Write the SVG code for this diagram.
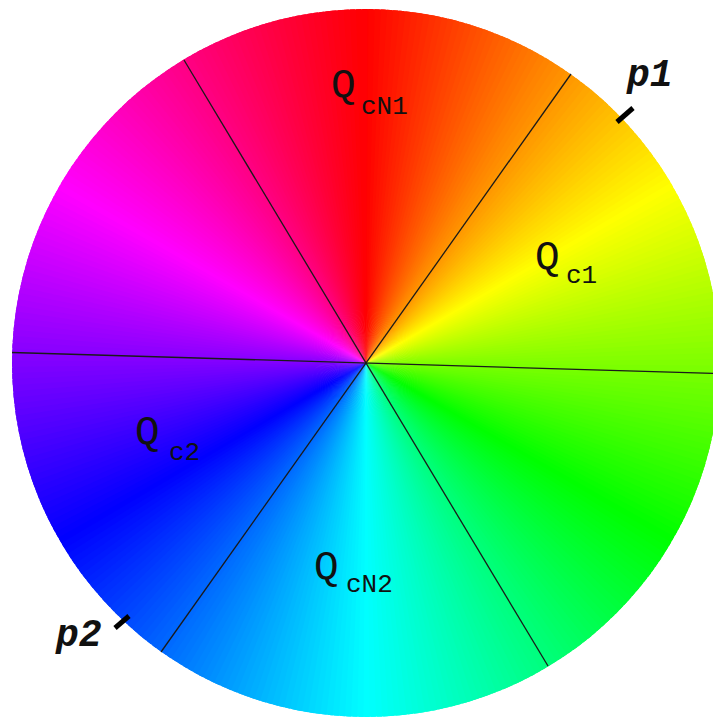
<svg xmlns="http://www.w3.org/2000/svg" xmlns:xlink="http://www.w3.org/1999/xlink" width="713" height="720" viewBox="0 0 713 720">
<style>
.q{font-family:"Liberation Mono","Courier New",monospace;font-size:41px;fill:#111}
.s{font-family:"Liberation Mono","Courier New",monospace;font-size:26px;fill:#111}
.p{font-family:"Liberation Mono","Courier New",monospace;font-size:38px;font-weight:bold;font-style:italic;fill:#111}
.ln{stroke:#1a1a1a;stroke-width:1.3;fill:none}
.tk{stroke:#000;stroke-width:5;fill:none}
</style>
<defs>
<path id="w" d="M0 0L-3.79 -362L7.6 -362Z"/>
<clipPath id="cc"><circle cx="0" cy="0" r="354"/></clipPath>
</defs>
<rect width="713" height="720" fill="#fff"/>
<g id="wheel" transform="translate(366,363)">
<g clip-path="url(#cc)">
<use href="#w" transform="rotate(0)" fill="hsl(0,100%,50%)"/>
<use href="#w" transform="rotate(1)" fill="hsl(1,100%,50%)"/>
<use href="#w" transform="rotate(2)" fill="hsl(2,100%,50%)"/>
<use href="#w" transform="rotate(3)" fill="hsl(3,100%,50%)"/>
<use href="#w" transform="rotate(4)" fill="hsl(4,100%,50%)"/>
<use href="#w" transform="rotate(5)" fill="hsl(5,100%,50%)"/>
<use href="#w" transform="rotate(6)" fill="hsl(6,100%,50%)"/>
<use href="#w" transform="rotate(7)" fill="hsl(7,100%,50%)"/>
<use href="#w" transform="rotate(8)" fill="hsl(8,100%,50%)"/>
<use href="#w" transform="rotate(9)" fill="hsl(9,100%,50%)"/>
<use href="#w" transform="rotate(10)" fill="hsl(10,100%,50%)"/>
<use href="#w" transform="rotate(11)" fill="hsl(11,100%,50%)"/>
<use href="#w" transform="rotate(12)" fill="hsl(12,100%,50%)"/>
<use href="#w" transform="rotate(13)" fill="hsl(13,100%,50%)"/>
<use href="#w" transform="rotate(14)" fill="hsl(14,100%,50%)"/>
<use href="#w" transform="rotate(15)" fill="hsl(15,100%,50%)"/>
<use href="#w" transform="rotate(16)" fill="hsl(16,100%,50%)"/>
<use href="#w" transform="rotate(17)" fill="hsl(17,100%,50%)"/>
<use href="#w" transform="rotate(18)" fill="hsl(18,100%,50%)"/>
<use href="#w" transform="rotate(19)" fill="hsl(19,100%,50%)"/>
<use href="#w" transform="rotate(20)" fill="hsl(20,100%,50%)"/>
<use href="#w" transform="rotate(21)" fill="hsl(21,100%,50%)"/>
<use href="#w" transform="rotate(22)" fill="hsl(22,100%,50%)"/>
<use href="#w" transform="rotate(23)" fill="hsl(23,100%,50%)"/>
<use href="#w" transform="rotate(24)" fill="hsl(24,100%,50%)"/>
<use href="#w" transform="rotate(25)" fill="hsl(25,100%,50%)"/>
<use href="#w" transform="rotate(26)" fill="hsl(26,100%,50%)"/>
<use href="#w" transform="rotate(27)" fill="hsl(27,100%,50%)"/>
<use href="#w" transform="rotate(28)" fill="hsl(28,100%,50%)"/>
<use href="#w" transform="rotate(29)" fill="hsl(29,100%,50%)"/>
<use href="#w" transform="rotate(30)" fill="hsl(30,100%,50%)"/>
<use href="#w" transform="rotate(31)" fill="hsl(31,100%,50%)"/>
<use href="#w" transform="rotate(32)" fill="hsl(32,100%,50%)"/>
<use href="#w" transform="rotate(33)" fill="hsl(33,100%,50%)"/>
<use href="#w" transform="rotate(34)" fill="hsl(34,100%,50%)"/>
<use href="#w" transform="rotate(35)" fill="hsl(35,100%,50%)"/>
<use href="#w" transform="rotate(36)" fill="hsl(36,100%,50%)"/>
<use href="#w" transform="rotate(37)" fill="hsl(37,100%,50%)"/>
<use href="#w" transform="rotate(38)" fill="hsl(38,100%,50%)"/>
<use href="#w" transform="rotate(39)" fill="hsl(39,100%,50%)"/>
<use href="#w" transform="rotate(40)" fill="hsl(40,100%,50%)"/>
<use href="#w" transform="rotate(41)" fill="hsl(41,100%,50%)"/>
<use href="#w" transform="rotate(42)" fill="hsl(42,100%,50%)"/>
<use href="#w" transform="rotate(43)" fill="hsl(43,100%,50%)"/>
<use href="#w" transform="rotate(44)" fill="hsl(44,100%,50%)"/>
<use href="#w" transform="rotate(45)" fill="hsl(45,100%,50%)"/>
<use href="#w" transform="rotate(46)" fill="hsl(46,100%,50%)"/>
<use href="#w" transform="rotate(47)" fill="hsl(47,100%,50%)"/>
<use href="#w" transform="rotate(48)" fill="hsl(48,100%,50%)"/>
<use href="#w" transform="rotate(49)" fill="hsl(49,100%,50%)"/>
<use href="#w" transform="rotate(50)" fill="hsl(50,100%,50%)"/>
<use href="#w" transform="rotate(51)" fill="hsl(51,100%,50%)"/>
<use href="#w" transform="rotate(52)" fill="hsl(52,100%,50%)"/>
<use href="#w" transform="rotate(53)" fill="hsl(53,100%,50%)"/>
<use href="#w" transform="rotate(54)" fill="hsl(54,100%,50%)"/>
<use href="#w" transform="rotate(55)" fill="hsl(55,100%,50%)"/>
<use href="#w" transform="rotate(56)" fill="hsl(56,100%,50%)"/>
<use href="#w" transform="rotate(57)" fill="hsl(57,100%,50%)"/>
<use href="#w" transform="rotate(58)" fill="hsl(58,100%,50%)"/>
<use href="#w" transform="rotate(59)" fill="hsl(59,100%,50%)"/>
<use href="#w" transform="rotate(60)" fill="hsl(60,100%,50%)"/>
<use href="#w" transform="rotate(61)" fill="hsl(61,100%,50%)"/>
<use href="#w" transform="rotate(62)" fill="hsl(62,100%,50%)"/>
<use href="#w" transform="rotate(63)" fill="hsl(63,100%,50%)"/>
<use href="#w" transform="rotate(64)" fill="hsl(64,100%,50%)"/>
<use href="#w" transform="rotate(65)" fill="hsl(65,100%,50%)"/>
<use href="#w" transform="rotate(66)" fill="hsl(66,100%,50%)"/>
<use href="#w" transform="rotate(67)" fill="hsl(67,100%,50%)"/>
<use href="#w" transform="rotate(68)" fill="hsl(68,100%,50%)"/>
<use href="#w" transform="rotate(69)" fill="hsl(69,100%,50%)"/>
<use href="#w" transform="rotate(70)" fill="hsl(70,100%,50%)"/>
<use href="#w" transform="rotate(71)" fill="hsl(71,100%,50%)"/>
<use href="#w" transform="rotate(72)" fill="hsl(72,100%,50%)"/>
<use href="#w" transform="rotate(73)" fill="hsl(73,100%,50%)"/>
<use href="#w" transform="rotate(74)" fill="hsl(74,100%,50%)"/>
<use href="#w" transform="rotate(75)" fill="hsl(75,100%,50%)"/>
<use href="#w" transform="rotate(76)" fill="hsl(76,100%,50%)"/>
<use href="#w" transform="rotate(77)" fill="hsl(77,100%,50%)"/>
<use href="#w" transform="rotate(78)" fill="hsl(78,100%,50%)"/>
<use href="#w" transform="rotate(79)" fill="hsl(79,100%,50%)"/>
<use href="#w" transform="rotate(80)" fill="hsl(80,100%,50%)"/>
<use href="#w" transform="rotate(81)" fill="hsl(81,100%,50%)"/>
<use href="#w" transform="rotate(82)" fill="hsl(82,100%,50%)"/>
<use href="#w" transform="rotate(83)" fill="hsl(83,100%,50%)"/>
<use href="#w" transform="rotate(84)" fill="hsl(84,100%,50%)"/>
<use href="#w" transform="rotate(85)" fill="hsl(85,100%,50%)"/>
<use href="#w" transform="rotate(86)" fill="hsl(86,100%,50%)"/>
<use href="#w" transform="rotate(87)" fill="hsl(87,100%,50%)"/>
<use href="#w" transform="rotate(88)" fill="hsl(88,100%,50%)"/>
<use href="#w" transform="rotate(89)" fill="hsl(89,100%,50%)"/>
<use href="#w" transform="rotate(90)" fill="hsl(90,100%,50%)"/>
<use href="#w" transform="rotate(91)" fill="hsl(91,100%,50%)"/>
<use href="#w" transform="rotate(92)" fill="hsl(92,100%,50%)"/>
<use href="#w" transform="rotate(93)" fill="hsl(93,100%,50%)"/>
<use href="#w" transform="rotate(94)" fill="hsl(94,100%,50%)"/>
<use href="#w" transform="rotate(95)" fill="hsl(95,100%,50%)"/>
<use href="#w" transform="rotate(96)" fill="hsl(96,100%,50%)"/>
<use href="#w" transform="rotate(97)" fill="hsl(97,100%,50%)"/>
<use href="#w" transform="rotate(98)" fill="hsl(98,100%,50%)"/>
<use href="#w" transform="rotate(99)" fill="hsl(99,100%,50%)"/>
<use href="#w" transform="rotate(100)" fill="hsl(100,100%,50%)"/>
<use href="#w" transform="rotate(101)" fill="hsl(101,100%,50%)"/>
<use href="#w" transform="rotate(102)" fill="hsl(102,100%,50%)"/>
<use href="#w" transform="rotate(103)" fill="hsl(103,100%,50%)"/>
<use href="#w" transform="rotate(104)" fill="hsl(104,100%,50%)"/>
<use href="#w" transform="rotate(105)" fill="hsl(105,100%,50%)"/>
<use href="#w" transform="rotate(106)" fill="hsl(106,100%,50%)"/>
<use href="#w" transform="rotate(107)" fill="hsl(107,100%,50%)"/>
<use href="#w" transform="rotate(108)" fill="hsl(108,100%,50%)"/>
<use href="#w" transform="rotate(109)" fill="hsl(109,100%,50%)"/>
<use href="#w" transform="rotate(110)" fill="hsl(110,100%,50%)"/>
<use href="#w" transform="rotate(111)" fill="hsl(111,100%,50%)"/>
<use href="#w" transform="rotate(112)" fill="hsl(112,100%,50%)"/>
<use href="#w" transform="rotate(113)" fill="hsl(113,100%,50%)"/>
<use href="#w" transform="rotate(114)" fill="hsl(114,100%,50%)"/>
<use href="#w" transform="rotate(115)" fill="hsl(115,100%,50%)"/>
<use href="#w" transform="rotate(116)" fill="hsl(116,100%,50%)"/>
<use href="#w" transform="rotate(117)" fill="hsl(117,100%,50%)"/>
<use href="#w" transform="rotate(118)" fill="hsl(118,100%,50%)"/>
<use href="#w" transform="rotate(119)" fill="hsl(119,100%,50%)"/>
<use href="#w" transform="rotate(120)" fill="hsl(120,100%,50%)"/>
<use href="#w" transform="rotate(121)" fill="hsl(121,100%,50%)"/>
<use href="#w" transform="rotate(122)" fill="hsl(122,100%,50%)"/>
<use href="#w" transform="rotate(123)" fill="hsl(123,100%,50%)"/>
<use href="#w" transform="rotate(124)" fill="hsl(124,100%,50%)"/>
<use href="#w" transform="rotate(125)" fill="hsl(125,100%,50%)"/>
<use href="#w" transform="rotate(126)" fill="hsl(126,100%,50%)"/>
<use href="#w" transform="rotate(127)" fill="hsl(127,100%,50%)"/>
<use href="#w" transform="rotate(128)" fill="hsl(128,100%,50%)"/>
<use href="#w" transform="rotate(129)" fill="hsl(129,100%,50%)"/>
<use href="#w" transform="rotate(130)" fill="hsl(130,100%,50%)"/>
<use href="#w" transform="rotate(131)" fill="hsl(131,100%,50%)"/>
<use href="#w" transform="rotate(132)" fill="hsl(132,100%,50%)"/>
<use href="#w" transform="rotate(133)" fill="hsl(133,100%,50%)"/>
<use href="#w" transform="rotate(134)" fill="hsl(134,100%,50%)"/>
<use href="#w" transform="rotate(135)" fill="hsl(135,100%,50%)"/>
<use href="#w" transform="rotate(136)" fill="hsl(136,100%,50%)"/>
<use href="#w" transform="rotate(137)" fill="hsl(137,100%,50%)"/>
<use href="#w" transform="rotate(138)" fill="hsl(138,100%,50%)"/>
<use href="#w" transform="rotate(139)" fill="hsl(139,100%,50%)"/>
<use href="#w" transform="rotate(140)" fill="hsl(140,100%,50%)"/>
<use href="#w" transform="rotate(141)" fill="hsl(141,100%,50%)"/>
<use href="#w" transform="rotate(142)" fill="hsl(142,100%,50%)"/>
<use href="#w" transform="rotate(143)" fill="hsl(143,100%,50%)"/>
<use href="#w" transform="rotate(144)" fill="hsl(144,100%,50%)"/>
<use href="#w" transform="rotate(145)" fill="hsl(145,100%,50%)"/>
<use href="#w" transform="rotate(146)" fill="hsl(146,100%,50%)"/>
<use href="#w" transform="rotate(147)" fill="hsl(147,100%,50%)"/>
<use href="#w" transform="rotate(148)" fill="hsl(148,100%,50%)"/>
<use href="#w" transform="rotate(149)" fill="hsl(149,100%,50%)"/>
<use href="#w" transform="rotate(150)" fill="hsl(150,100%,50%)"/>
<use href="#w" transform="rotate(151)" fill="hsl(151,100%,50%)"/>
<use href="#w" transform="rotate(152)" fill="hsl(152,100%,50%)"/>
<use href="#w" transform="rotate(153)" fill="hsl(153,100%,50%)"/>
<use href="#w" transform="rotate(154)" fill="hsl(154,100%,50%)"/>
<use href="#w" transform="rotate(155)" fill="hsl(155,100%,50%)"/>
<use href="#w" transform="rotate(156)" fill="hsl(156,100%,50%)"/>
<use href="#w" transform="rotate(157)" fill="hsl(157,100%,50%)"/>
<use href="#w" transform="rotate(158)" fill="hsl(158,100%,50%)"/>
<use href="#w" transform="rotate(159)" fill="hsl(159,100%,50%)"/>
<use href="#w" transform="rotate(160)" fill="hsl(160,100%,50%)"/>
<use href="#w" transform="rotate(161)" fill="hsl(161,100%,50%)"/>
<use href="#w" transform="rotate(162)" fill="hsl(162,100%,50%)"/>
<use href="#w" transform="rotate(163)" fill="hsl(163,100%,50%)"/>
<use href="#w" transform="rotate(164)" fill="hsl(164,100%,50%)"/>
<use href="#w" transform="rotate(165)" fill="hsl(165,100%,50%)"/>
<use href="#w" transform="rotate(166)" fill="hsl(166,100%,50%)"/>
<use href="#w" transform="rotate(167)" fill="hsl(167,100%,50%)"/>
<use href="#w" transform="rotate(168)" fill="hsl(168,100%,50%)"/>
<use href="#w" transform="rotate(169)" fill="hsl(169,100%,50%)"/>
<use href="#w" transform="rotate(170)" fill="hsl(170,100%,50%)"/>
<use href="#w" transform="rotate(171)" fill="hsl(171,100%,50%)"/>
<use href="#w" transform="rotate(172)" fill="hsl(172,100%,50%)"/>
<use href="#w" transform="rotate(173)" fill="hsl(173,100%,50%)"/>
<use href="#w" transform="rotate(174)" fill="hsl(174,100%,50%)"/>
<use href="#w" transform="rotate(175)" fill="hsl(175,100%,50%)"/>
<use href="#w" transform="rotate(176)" fill="hsl(176,100%,50%)"/>
<use href="#w" transform="rotate(177)" fill="hsl(177,100%,50%)"/>
<use href="#w" transform="rotate(178)" fill="hsl(178,100%,50%)"/>
<use href="#w" transform="rotate(179)" fill="hsl(179,100%,50%)"/>
<use href="#w" transform="rotate(180)" fill="hsl(180,100%,50%)"/>
<use href="#w" transform="rotate(181)" fill="hsl(181,100%,50%)"/>
<use href="#w" transform="rotate(182)" fill="hsl(182,100%,50%)"/>
<use href="#w" transform="rotate(183)" fill="hsl(183,100%,50%)"/>
<use href="#w" transform="rotate(184)" fill="hsl(184,100%,50%)"/>
<use href="#w" transform="rotate(185)" fill="hsl(185,100%,50%)"/>
<use href="#w" transform="rotate(186)" fill="hsl(186,100%,50%)"/>
<use href="#w" transform="rotate(187)" fill="hsl(187,100%,50%)"/>
<use href="#w" transform="rotate(188)" fill="hsl(188,100%,50%)"/>
<use href="#w" transform="rotate(189)" fill="hsl(189,100%,50%)"/>
<use href="#w" transform="rotate(190)" fill="hsl(190,100%,50%)"/>
<use href="#w" transform="rotate(191)" fill="hsl(191,100%,50%)"/>
<use href="#w" transform="rotate(192)" fill="hsl(192,100%,50%)"/>
<use href="#w" transform="rotate(193)" fill="hsl(193,100%,50%)"/>
<use href="#w" transform="rotate(194)" fill="hsl(194,100%,50%)"/>
<use href="#w" transform="rotate(195)" fill="hsl(195,100%,50%)"/>
<use href="#w" transform="rotate(196)" fill="hsl(196,100%,50%)"/>
<use href="#w" transform="rotate(197)" fill="hsl(197,100%,50%)"/>
<use href="#w" transform="rotate(198)" fill="hsl(198,100%,50%)"/>
<use href="#w" transform="rotate(199)" fill="hsl(199,100%,50%)"/>
<use href="#w" transform="rotate(200)" fill="hsl(200,100%,50%)"/>
<use href="#w" transform="rotate(201)" fill="hsl(201,100%,50%)"/>
<use href="#w" transform="rotate(202)" fill="hsl(202,100%,50%)"/>
<use href="#w" transform="rotate(203)" fill="hsl(203,100%,50%)"/>
<use href="#w" transform="rotate(204)" fill="hsl(204,100%,50%)"/>
<use href="#w" transform="rotate(205)" fill="hsl(205,100%,50%)"/>
<use href="#w" transform="rotate(206)" fill="hsl(206,100%,50%)"/>
<use href="#w" transform="rotate(207)" fill="hsl(207,100%,50%)"/>
<use href="#w" transform="rotate(208)" fill="hsl(208,100%,50%)"/>
<use href="#w" transform="rotate(209)" fill="hsl(209,100%,50%)"/>
<use href="#w" transform="rotate(210)" fill="hsl(210,100%,50%)"/>
<use href="#w" transform="rotate(211)" fill="hsl(211,100%,50%)"/>
<use href="#w" transform="rotate(212)" fill="hsl(212,100%,50%)"/>
<use href="#w" transform="rotate(213)" fill="hsl(213,100%,50%)"/>
<use href="#w" transform="rotate(214)" fill="hsl(214,100%,50%)"/>
<use href="#w" transform="rotate(215)" fill="hsl(215,100%,50%)"/>
<use href="#w" transform="rotate(216)" fill="hsl(216,100%,50%)"/>
<use href="#w" transform="rotate(217)" fill="hsl(217,100%,50%)"/>
<use href="#w" transform="rotate(218)" fill="hsl(218,100%,50%)"/>
<use href="#w" transform="rotate(219)" fill="hsl(219,100%,50%)"/>
<use href="#w" transform="rotate(220)" fill="hsl(220,100%,50%)"/>
<use href="#w" transform="rotate(221)" fill="hsl(221,100%,50%)"/>
<use href="#w" transform="rotate(222)" fill="hsl(222,100%,50%)"/>
<use href="#w" transform="rotate(223)" fill="hsl(223,100%,50%)"/>
<use href="#w" transform="rotate(224)" fill="hsl(224,100%,50%)"/>
<use href="#w" transform="rotate(225)" fill="hsl(225,100%,50%)"/>
<use href="#w" transform="rotate(226)" fill="hsl(226,100%,50%)"/>
<use href="#w" transform="rotate(227)" fill="hsl(227,100%,50%)"/>
<use href="#w" transform="rotate(228)" fill="hsl(228,100%,50%)"/>
<use href="#w" transform="rotate(229)" fill="hsl(229,100%,50%)"/>
<use href="#w" transform="rotate(230)" fill="hsl(230,100%,50%)"/>
<use href="#w" transform="rotate(231)" fill="hsl(231,100%,50%)"/>
<use href="#w" transform="rotate(232)" fill="hsl(232,100%,50%)"/>
<use href="#w" transform="rotate(233)" fill="hsl(233,100%,50%)"/>
<use href="#w" transform="rotate(234)" fill="hsl(234,100%,50%)"/>
<use href="#w" transform="rotate(235)" fill="hsl(235,100%,50%)"/>
<use href="#w" transform="rotate(236)" fill="hsl(236,100%,50%)"/>
<use href="#w" transform="rotate(237)" fill="hsl(237,100%,50%)"/>
<use href="#w" transform="rotate(238)" fill="hsl(238,100%,50%)"/>
<use href="#w" transform="rotate(239)" fill="hsl(239,100%,50%)"/>
<use href="#w" transform="rotate(240)" fill="hsl(240,100%,50%)"/>
<use href="#w" transform="rotate(241)" fill="hsl(241,100%,50%)"/>
<use href="#w" transform="rotate(242)" fill="hsl(242,100%,50%)"/>
<use href="#w" transform="rotate(243)" fill="hsl(243,100%,50%)"/>
<use href="#w" transform="rotate(244)" fill="hsl(244,100%,50%)"/>
<use href="#w" transform="rotate(245)" fill="hsl(245,100%,50%)"/>
<use href="#w" transform="rotate(246)" fill="hsl(246,100%,50%)"/>
<use href="#w" transform="rotate(247)" fill="hsl(247,100%,50%)"/>
<use href="#w" transform="rotate(248)" fill="hsl(248,100%,50%)"/>
<use href="#w" transform="rotate(249)" fill="hsl(249,100%,50%)"/>
<use href="#w" transform="rotate(250)" fill="hsl(250,100%,50%)"/>
<use href="#w" transform="rotate(251)" fill="hsl(251,100%,50%)"/>
<use href="#w" transform="rotate(252)" fill="hsl(252,100%,50%)"/>
<use href="#w" transform="rotate(253)" fill="hsl(253,100%,50%)"/>
<use href="#w" transform="rotate(254)" fill="hsl(254,100%,50%)"/>
<use href="#w" transform="rotate(255)" fill="hsl(255,100%,50%)"/>
<use href="#w" transform="rotate(256)" fill="hsl(256,100%,50%)"/>
<use href="#w" transform="rotate(257)" fill="hsl(257,100%,50%)"/>
<use href="#w" transform="rotate(258)" fill="hsl(258,100%,50%)"/>
<use href="#w" transform="rotate(259)" fill="hsl(259,100%,50%)"/>
<use href="#w" transform="rotate(260)" fill="hsl(260,100%,50%)"/>
<use href="#w" transform="rotate(261)" fill="hsl(261,100%,50%)"/>
<use href="#w" transform="rotate(262)" fill="hsl(262,100%,50%)"/>
<use href="#w" transform="rotate(263)" fill="hsl(263,100%,50%)"/>
<use href="#w" transform="rotate(264)" fill="hsl(264,100%,50%)"/>
<use href="#w" transform="rotate(265)" fill="hsl(265,100%,50%)"/>
<use href="#w" transform="rotate(266)" fill="hsl(266,100%,50%)"/>
<use href="#w" transform="rotate(267)" fill="hsl(267,100%,50%)"/>
<use href="#w" transform="rotate(268)" fill="hsl(268,100%,50%)"/>
<use href="#w" transform="rotate(269)" fill="hsl(269,100%,50%)"/>
<use href="#w" transform="rotate(270)" fill="hsl(270,100%,50%)"/>
<use href="#w" transform="rotate(271)" fill="hsl(271,100%,50%)"/>
<use href="#w" transform="rotate(272)" fill="hsl(272,100%,50%)"/>
<use href="#w" transform="rotate(273)" fill="hsl(273,100%,50%)"/>
<use href="#w" transform="rotate(274)" fill="hsl(274,100%,50%)"/>
<use href="#w" transform="rotate(275)" fill="hsl(275,100%,50%)"/>
<use href="#w" transform="rotate(276)" fill="hsl(276,100%,50%)"/>
<use href="#w" transform="rotate(277)" fill="hsl(277,100%,50%)"/>
<use href="#w" transform="rotate(278)" fill="hsl(278,100%,50%)"/>
<use href="#w" transform="rotate(279)" fill="hsl(279,100%,50%)"/>
<use href="#w" transform="rotate(280)" fill="hsl(280,100%,50%)"/>
<use href="#w" transform="rotate(281)" fill="hsl(281,100%,50%)"/>
<use href="#w" transform="rotate(282)" fill="hsl(282,100%,50%)"/>
<use href="#w" transform="rotate(283)" fill="hsl(283,100%,50%)"/>
<use href="#w" transform="rotate(284)" fill="hsl(284,100%,50%)"/>
<use href="#w" transform="rotate(285)" fill="hsl(285,100%,50%)"/>
<use href="#w" transform="rotate(286)" fill="hsl(286,100%,50%)"/>
<use href="#w" transform="rotate(287)" fill="hsl(287,100%,50%)"/>
<use href="#w" transform="rotate(288)" fill="hsl(288,100%,50%)"/>
<use href="#w" transform="rotate(289)" fill="hsl(289,100%,50%)"/>
<use href="#w" transform="rotate(290)" fill="hsl(290,100%,50%)"/>
<use href="#w" transform="rotate(291)" fill="hsl(291,100%,50%)"/>
<use href="#w" transform="rotate(292)" fill="hsl(292,100%,50%)"/>
<use href="#w" transform="rotate(293)" fill="hsl(293,100%,50%)"/>
<use href="#w" transform="rotate(294)" fill="hsl(294,100%,50%)"/>
<use href="#w" transform="rotate(295)" fill="hsl(295,100%,50%)"/>
<use href="#w" transform="rotate(296)" fill="hsl(296,100%,50%)"/>
<use href="#w" transform="rotate(297)" fill="hsl(297,100%,50%)"/>
<use href="#w" transform="rotate(298)" fill="hsl(298,100%,50%)"/>
<use href="#w" transform="rotate(299)" fill="hsl(299,100%,50%)"/>
<use href="#w" transform="rotate(300)" fill="hsl(300,100%,50%)"/>
<use href="#w" transform="rotate(301)" fill="hsl(301,100%,50%)"/>
<use href="#w" transform="rotate(302)" fill="hsl(302,100%,50%)"/>
<use href="#w" transform="rotate(303)" fill="hsl(303,100%,50%)"/>
<use href="#w" transform="rotate(304)" fill="hsl(304,100%,50%)"/>
<use href="#w" transform="rotate(305)" fill="hsl(305,100%,50%)"/>
<use href="#w" transform="rotate(306)" fill="hsl(306,100%,50%)"/>
<use href="#w" transform="rotate(307)" fill="hsl(307,100%,50%)"/>
<use href="#w" transform="rotate(308)" fill="hsl(308,100%,50%)"/>
<use href="#w" transform="rotate(309)" fill="hsl(309,100%,50%)"/>
<use href="#w" transform="rotate(310)" fill="hsl(310,100%,50%)"/>
<use href="#w" transform="rotate(311)" fill="hsl(311,100%,50%)"/>
<use href="#w" transform="rotate(312)" fill="hsl(312,100%,50%)"/>
<use href="#w" transform="rotate(313)" fill="hsl(313,100%,50%)"/>
<use href="#w" transform="rotate(314)" fill="hsl(314,100%,50%)"/>
<use href="#w" transform="rotate(315)" fill="hsl(315,100%,50%)"/>
<use href="#w" transform="rotate(316)" fill="hsl(316,100%,50%)"/>
<use href="#w" transform="rotate(317)" fill="hsl(317,100%,50%)"/>
<use href="#w" transform="rotate(318)" fill="hsl(318,100%,50%)"/>
<use href="#w" transform="rotate(319)" fill="hsl(319,100%,50%)"/>
<use href="#w" transform="rotate(320)" fill="hsl(320,100%,50%)"/>
<use href="#w" transform="rotate(321)" fill="hsl(321,100%,50%)"/>
<use href="#w" transform="rotate(322)" fill="hsl(322,100%,50%)"/>
<use href="#w" transform="rotate(323)" fill="hsl(323,100%,50%)"/>
<use href="#w" transform="rotate(324)" fill="hsl(324,100%,50%)"/>
<use href="#w" transform="rotate(325)" fill="hsl(325,100%,50%)"/>
<use href="#w" transform="rotate(326)" fill="hsl(326,100%,50%)"/>
<use href="#w" transform="rotate(327)" fill="hsl(327,100%,50%)"/>
<use href="#w" transform="rotate(328)" fill="hsl(328,100%,50%)"/>
<use href="#w" transform="rotate(329)" fill="hsl(329,100%,50%)"/>
<use href="#w" transform="rotate(330)" fill="hsl(330,100%,50%)"/>
<use href="#w" transform="rotate(331)" fill="hsl(331,100%,50%)"/>
<use href="#w" transform="rotate(332)" fill="hsl(332,100%,50%)"/>
<use href="#w" transform="rotate(333)" fill="hsl(333,100%,50%)"/>
<use href="#w" transform="rotate(334)" fill="hsl(334,100%,50%)"/>
<use href="#w" transform="rotate(335)" fill="hsl(335,100%,50%)"/>
<use href="#w" transform="rotate(336)" fill="hsl(336,100%,50%)"/>
<use href="#w" transform="rotate(337)" fill="hsl(337,100%,50%)"/>
<use href="#w" transform="rotate(338)" fill="hsl(338,100%,50%)"/>
<use href="#w" transform="rotate(339)" fill="hsl(339,100%,50%)"/>
<use href="#w" transform="rotate(340)" fill="hsl(340,100%,50%)"/>
<use href="#w" transform="rotate(341)" fill="hsl(341,100%,50%)"/>
<use href="#w" transform="rotate(342)" fill="hsl(342,100%,50%)"/>
<use href="#w" transform="rotate(343)" fill="hsl(343,100%,50%)"/>
<use href="#w" transform="rotate(344)" fill="hsl(344,100%,50%)"/>
<use href="#w" transform="rotate(345)" fill="hsl(345,100%,50%)"/>
<use href="#w" transform="rotate(346)" fill="hsl(346,100%,50%)"/>
<use href="#w" transform="rotate(347)" fill="hsl(347,100%,50%)"/>
<use href="#w" transform="rotate(348)" fill="hsl(348,100%,50%)"/>
<use href="#w" transform="rotate(349)" fill="hsl(349,100%,50%)"/>
<use href="#w" transform="rotate(350)" fill="hsl(350,100%,50%)"/>
<use href="#w" transform="rotate(351)" fill="hsl(351,100%,50%)"/>
<use href="#w" transform="rotate(352)" fill="hsl(352,100%,50%)"/>
<use href="#w" transform="rotate(353)" fill="hsl(353,100%,50%)"/>
<use href="#w" transform="rotate(354)" fill="hsl(354,100%,50%)"/>
<use href="#w" transform="rotate(355)" fill="hsl(355,100%,50%)"/>
<use href="#w" transform="rotate(356)" fill="hsl(356,100%,50%)"/>
<use href="#w" transform="rotate(357)" fill="hsl(357,100%,50%)"/>
<use href="#w" transform="rotate(358)" fill="hsl(358,100%,50%)"/>
<use href="#w" transform="rotate(359)" fill="hsl(359,100%,50%)"/>
</g>
</g>
<g id="connectors">
<line class="ln" x1="184" y1="60" x2="548" y2="666"/>
<line class="ln" x1="571" y1="74" x2="161" y2="652"/>
<line class="ln" x1="12" y1="352.5" x2="713" y2="373.4"/>
<line class="tk" x1="617" y1="122" x2="633" y2="108"/>
<line class="tk" x1="115" y1="628" x2="129" y2="616"/>
</g>
<g id="QcN1"><text class="q" x="331" y="97">Q</text><text class="s" x="361" y="114">cN1</text></g>
<g id="Qc1"><text class="q" x="535" y="269">Q</text><text class="s" x="566" y="283">c1</text></g>
<g id="Qc2"><text class="q" x="135" y="444">Q</text><text class="s" x="169" y="460">c2</text></g>
<g id="QcN2"><text class="q" x="314" y="579">Q</text><text class="s" x="346" y="592">cN2</text></g>
<g id="p1"><text class="p" x="627" y="86">p1</text></g>
<g id="p2"><text class="p" x="56" y="646">p2</text></g>
</svg>
